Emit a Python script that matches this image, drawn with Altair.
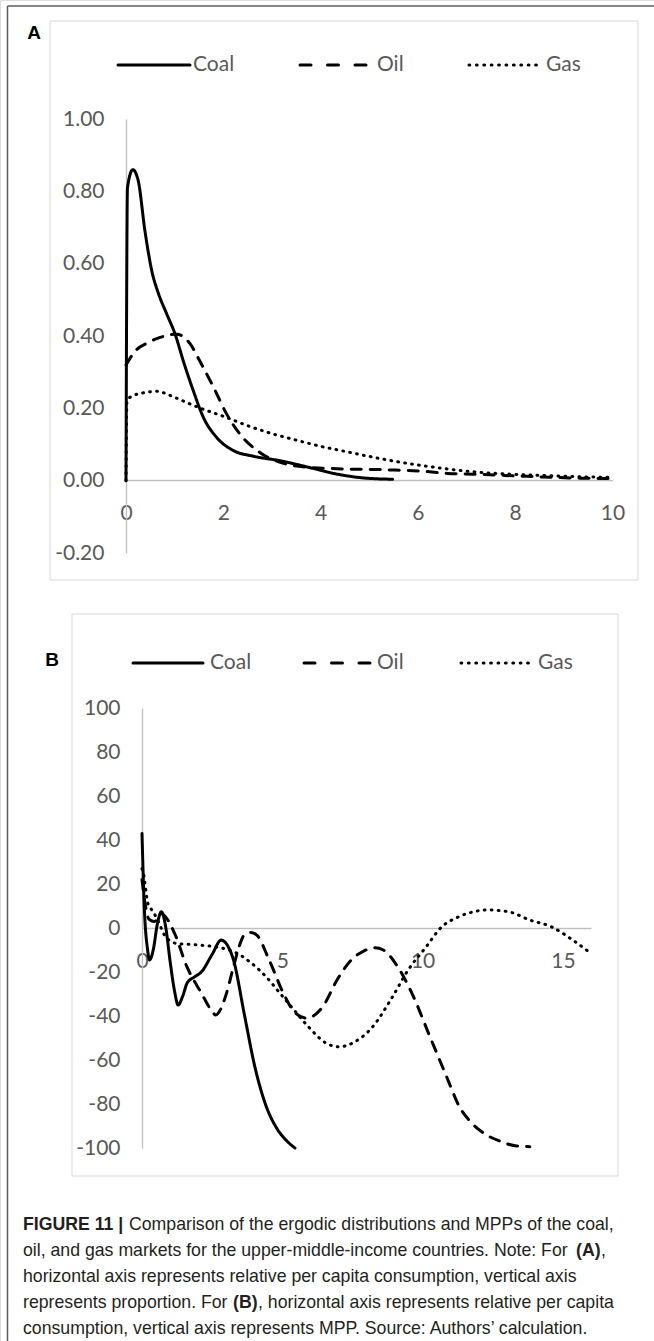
import altair as alt
import pandas as pd

W, H = 654, 1341

SERIES = ["Coal", "Oil", "Gas"]

# Panel A: ergodic distributions (relative per capita consumption -> proportion)
coal_a_x = [0, 0.03, 0.14, 0.25, 0.39, 0.53, 0.66, 0.84, 1.01, 1.18, 1.38, 1.59, 1.86, 2.21, 2.6, 3.17, 3.75, 4.34, 4.93, 5.48]
coal_a_y = [0, 0.81, 0.86, 0.83, 0.69, 0.58, 0.52, 0.46, 0.405, 0.33, 0.25, 0.175, 0.12, 0.083, 0.068, 0.055, 0.037, 0.018, 0.007, 0.004]

oil_a_x = [0, 0.2, 0.43, 0.7, 1.04, 1.32, 1.52, 1.8, 2.07, 2.34, 2.75, 3.24, 3.75, 4.34, 5.37, 6.1, 6.61, 7.13, 8.22, 9.33, 9.99]
oil_a_y = [0.32, 0.36, 0.38, 0.396, 0.405, 0.378, 0.33, 0.258, 0.184, 0.129, 0.078, 0.048, 0.037, 0.033, 0.03, 0.026, 0.02, 0.018, 0.012, 0.007, 0.006]

gas_a_x = [0, 0.02, 0.1, 0.4, 0.63, 0.97, 1.32, 1.66, 2.0, 2.5, 3.0, 3.5, 4.0, 4.5, 5.0, 5.6, 6.4, 7.1, 7.9, 8.6, 9.3, 10.0]
gas_a_y = [0, 0.22, 0.232, 0.244, 0.247, 0.232, 0.212, 0.194, 0.178, 0.152, 0.13, 0.112, 0.095, 0.081, 0.067, 0.052, 0.036, 0.025, 0.018, 0.014, 0.011, 0.009]

# Panel B: MPPs (relative per capita consumption -> MPP)
coal_b_x = [0, 0.08, 0.2, 0.27, 0.4, 0.55, 0.69, 0.85, 1.0, 1.15, 1.29, 1.45, 1.61, 1.9, 2.12, 2.5, 2.82, 3.05, 3.26, 3.64, 4.02, 4.41, 4.8, 5.1, 5.45]
coal_b_y = [43, 10, -10, -14.5, -10, 2, 7.4, 0, -15, -28, -35, -31, -25, -22, -19.9, -12, -5.5, -8, -14.5, -38.8, -63, -80.5, -91, -96, -100]

oil_b_x = [0, 0.1, 0.25, 0.45, 0.7, 0.84, 1.16, 1.6, 2.12, 2.45, 2.63, 2.8, 3.01, 3.26, 3.5, 3.64, 3.87, 4.09, 4.53, 5.04, 5.42, 5.87, 6.44, 6.95, 7.46, 7.9, 8.3, 8.6, 9.11, 9.62, 10.26, 10.9, 11.28, 11.7, 12.18, 12.78, 13.3, 13.82]
oil_b_y = [22, 12, 4, 3, 6.5, 5, -2.4, -17.6, -29.7, -37, -39.5, -37, -29.7, -17.6, -7, -3.2, -2, -3.2, -14.5, -29.7, -38, -41, -35.8, -23.6, -14.5, -10.5, -9, -10, -17.6, -29.7, -49.4, -69, -80.5, -88, -93.3, -97, -99, -99.4]

gas_b_x = [0, 0.05, 0.21, 0.4, 0.6, 0.84, 1.23, 1.99, 2.88, 3.39, 3.9, 4.41, 4.92, 5.42, 5.93, 6.57, 7.01, 7.59, 8.22, 8.86, 9.49, 10.13, 10.64, 11.28, 11.8, 12.3, 13.06, 13.82, 14.58, 15.35, 15.92]
gas_b_y = [27, 24.8, 11.2, 7.4, 2.4, -4, -7, -7.7, -9.2, -11.5, -16, -22, -29.7, -37.3, -44.9, -52.4, -54, -51.7, -44.9, -32.7, -19, -8.5, 0, 5.1, 7.3, 8.2, 7.4, 3.6, 0.6, -5.5, -10.8]

A_X_TICKS = [0, 2, 4, 6, 8, 10]
A_Y_TICKS = [-0.2, 0.0, 0.2, 0.4, 0.6, 0.8, 1.0]
B_X_TICKS = [0, 5, 10, 15]
B_Y_TICKS = [-100, -80, -60, -40, -20, 0, 20, 40, 60, 80, 100]

PANEL_TAGS = ["A", "B"]

# caption: (line, left x, text, bold)
CAPTION = [
    (0, 23, "FIGURE 11 |", True),
    (0, 129, "Comparison of the ergodic distributions and MPPs of the coal,", False),
    (1, 23, "oil, and gas markets for the upper-middle-income countries. Note: For", False),
    (1, 576, "(A)", True),
    (1, 601, ",", False),
    (2, 23, "horizontal axis represents relative per capita consumption, vertical axis", False),
    (3, 23, "represents proportion. For", False),
    (3, 233, "(B)", True),
    (3, 258, ", horizontal axis represents relative per capita", False),
    (4, 23, "consumption, vertical axis represents MPP. Source: Authors\u2019 calculation.", False),
]

# ---- styling ----
INK = "#000000"
AXIS_GRAY = "#bfbfbf"
LABEL_GRAY = "#595959"
BOX_GRAY = "#d9d9d9"
FRAME_GRAY = "#5b5b5b"
DASH_RANGE = [[1, 0], [10, 9], [0.8, 6.2]]
LEGEND_DASH = [[1, 0], [11, 16.5], [0.8, 6.6]]
TICK_FONT = "Lato"
CAPTION_FONT = "Liberation Sans"


def frame(xs_list, ys_list):
    rows = []
    for name, xs, ys in zip(SERIES, xs_list, ys_list):
        rows += [{"series": name, "x": a, "y": b} for a, b in zip(xs, ys)]
    return pd.DataFrame(rows)


def signed(fmt):
    return f"datum.value < 0 ? '-' + format(-datum.value, '{fmt}') : format(datum.value, '{fmt}')"


def panel(df, x_dom, x_rng, x_ticks, y_dom, y_rng, y_ticks, y_fmt, x_axis_at, y_axis_at):
    common = dict(
        title=None, grid=False, ticks=False, tickSize=0,
        domainColor=AXIS_GRAY, domainWidth=1.3,
        labelFont=TICK_FONT, labelFontSize=21, labelColor=LABEL_GRAY,
        labelPadding=22, labelOverlap=False,
    )
    x = alt.X(
        "x:Q",
        scale=alt.Scale(domain=x_dom, range=x_rng, nice=False, zero=False),
        axis=alt.Axis(orient="bottom", offset=x_axis_at - H, values=x_ticks,
                      labelExpr=signed("d"), labelFlush=False, **common),
    )
    y = alt.Y(
        "y:Q",
        scale=alt.Scale(domain=y_dom, range=y_rng, nice=False, zero=False),
        axis=alt.Axis(orient="left", offset=-y_axis_at, values=y_ticks,
                      labelExpr=signed(y_fmt), **common),
    )
    return alt.Chart(df).mark_line(
        interpolate="monotone", strokeWidth=3, strokeCap="round",
        strokeJoin="round", color=INK,
    ).encode(
        x=x,
        y=y,
        detail="series:N",
        strokeDash=alt.StrokeDash(
            "series:N",
            scale=alt.Scale(domain=SERIES, range=DASH_RANGE),
            legend=None,
        ),
    )


one = pd.DataFrame({"k": [0]})


def box(x0, x1, y0, y1):
    return alt.Chart(one).mark_rect(fillOpacity=0, stroke=BOX_GRAY, strokeWidth=1).encode(
        x=alt.value(x0), x2=alt.value(x1), y=alt.value(y0), y2=alt.value(y1)
    )


def legend(y, sym_x, text_x, sym_len):
    parts = []
    for name, dash, x0, tx in zip(SERIES, LEGEND_DASH, sym_x, text_x):
        parts.append(
            alt.Chart(one).mark_rule(color=INK, strokeWidth=3, strokeDash=dash, strokeCap="round").encode(
                x=alt.value(x0), x2=alt.value(x0 + sym_len), y=alt.value(y)
            )
        )
        parts.append(
            alt.Chart(pd.DataFrame({"t": [name]})).mark_text(
                align="left", baseline="middle", font=TICK_FONT, fontSize=21, color=LABEL_GRAY
            ).encode(x=alt.value(tx), y=alt.value(y), text="t:N")
        )
    return parts


def tag(label, x, y):
    return alt.Chart(pd.DataFrame({"t": [label]})).mark_text(
        align="center", baseline="middle", font=CAPTION_FONT, fontSize=19,
        fontWeight="bold", color=INK,
    ).encode(x=alt.value(x), y=alt.value(y), text="t:N")


# outer figure frame (left and top edges)
frame_left = alt.Chart(one).mark_rule(color=FRAME_GRAY, strokeWidth=1.5).encode(
    x=alt.value(7.5), y=alt.value(6), y2=alt.value(H)
)
frame_top = alt.Chart(one).mark_rule(color=FRAME_GRAY, strokeWidth=1.5).encode(
    x=alt.value(7.5), x2=alt.value(W), y=alt.value(6)
)

panel_a = panel(
    frame([coal_a_x, oil_a_x, gas_a_x], [coal_a_y, oil_a_y, gas_a_y]),
    [0, 10], [126, 612.5], A_X_TICKS,
    [-0.2, 1.0], [553, 119], A_Y_TICKS, ".2f",
    x_axis_at=480, y_axis_at=126,
)
panel_b = panel(
    frame([coal_b_x, oil_b_x, gas_b_x], [coal_b_y, oil_b_y, gas_b_y]),
    [0, 16], [142, 591], B_X_TICKS,
    [-100, 100], [1148, 708], B_Y_TICKS, "d",
    x_axis_at=928, y_axis_at=142,
)

caption_layers = []
LINE_Y0, LINE_STEP = 1225, 26
for line, x0, text, bold in CAPTION:
    caption_layers.append(
        alt.Chart(pd.DataFrame({"t": [text]})).mark_text(
            align="left", baseline="middle", font=CAPTION_FONT, fontSize=17.7,
            fontWeight="bold" if bold else "normal", color="#231f20",
        ).encode(x=alt.value(x0), y=alt.value(LINE_Y0 + line * LINE_STEP), text="t:N")
    )

layers = [
    frame_left, frame_top,
    box(50, 638, 21, 580), box(72, 618, 614, 1176),
    tag(PANEL_TAGS[0], 34, 33), tag(PANEL_TAGS[1], 52, 660),
    *legend(65, [118, 300, 469], [193, 377, 546], 72),
    *legend(663, [133, 304, 461], [210, 377, 538], 70),
    panel_a, panel_b,
    *caption_layers,
]

chart = alt.layer(*layers).resolve_scale(
    x="independent", y="independent", strokeDash="independent"
).properties(
    width=W, height=H, padding=0,
    autosize=alt.AutoSizeParams(type="none"),
).configure_view(stroke=None).configure(background="white")

chart.save("out.html", embed_options={"renderer": "svg", "actions": False})
